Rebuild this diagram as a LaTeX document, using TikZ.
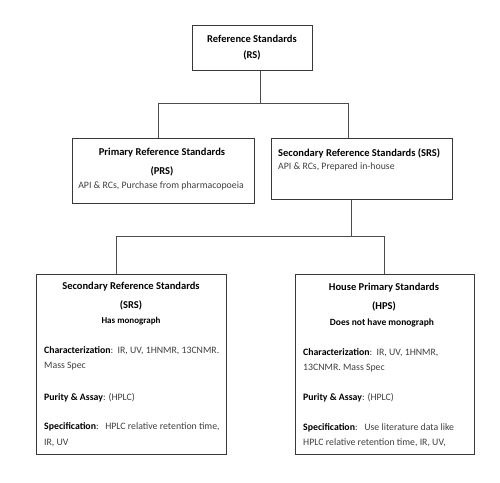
\documentclass[tikz,border=0pt]{standalone}
\usepackage{fontspec}
\setmainfont{Carlito}
\begin{document}
\begin{tikzpicture}[x=1pt,y=-1pt,
  box/.style={draw=black!78,line width=0.9pt,fill=white,inner sep=0pt,anchor=north west},
  conn/.style={draw=black!70,line width=0.8pt},
  ttl/.style={font=\bfseries\fontsize{10.5}{12}\selectfont,inner sep=0pt,text=black},
  sub/.style={font=\fontsize{9.8}{12}\selectfont,inner sep=0pt,text=black!75},
  lft/.style={anchor=west,font=\fontsize{9.8}{12}\selectfont,inner sep=0pt,text=black!75},
  bl/.style={text=black}
]
\useasboundingbox (0,0) rectangle (500,482);
\fill[white] (0,0) rectangle (500,482);
% boxes
\node[box,minimum width=120pt,minimum height=45pt] (rs) at (192,25) {};
\node[box,minimum width=182pt,minimum height=65pt] (prs) at (72,138) {};
\node[box,minimum width=181pt,minimum height=61pt] (srs) at (271,138) {};
\node[box,minimum width=190pt,minimum height=180pt] (srs2) at (36,274) {};
\node[box,minimum width=179pt,minimum height=180pt] (hps) at (295,274) {};
% connectors
\coordinate (j1) at (260,103);
\coordinate (j1l) at (158,103);
\coordinate (j1r) at (348,103);
\draw[conn] (j1 |- rs.south) -- (j1);
\draw[conn] (j1l |- prs.north) -- (j1l) -- (j1r) -- (j1r |- srs.north);
\coordinate (j2) at (351,236);
\coordinate (j2l) at (116,236);
\coordinate (j2r) at (384,236);
\draw[conn] (j2 |- srs.south) -- (j2);
\draw[conn] (j2l |- srs2.north) -- (j2l) -- (j2r) -- (j2r |- hps.north);
% texts RS
\node[ttl] (t1) at (252,39) {Reference Standards};
\node[ttl] (t2) at (252,55) {(RS)};
% PRS
\node[ttl] (t3) at (162,153) {Primary Reference Standards};
\node[ttl] (t4) at (162,171) {(PRS)};
\node[sub] (t5) at (161,186) {API \& RCs, Purchase from pharmacopoeia};
% SRS
\node[ttl,anchor=west] (t6) at (278,153) {Secondary Reference Standards (SRS)};
\node[lft] (t7) at (278,167) {API \& RCs, Prepared in-house};
% bottom left
\node[ttl] (t8) at (131,287) {Secondary Reference Standards};
\node[ttl] (t9) at (131,305) {(SRS)};
\node[ttl,font=\bfseries\fontsize{9}{11}\selectfont] (t10) at (131,321) {Has monograph};
\node[lft] (t11) at (44,351) {\textcolor{black}{\textbf{Characterization}}:\ \ IR, UV, 1HNMR, 13CNMR.};
\node[lft] (t12) at (44,366) {Mass Spec};
\node[lft] (t13) at (44,398) {\textcolor{black}{\textbf{Purity \& Assay}}: (HPLC)};
\node[lft] (t14) at (44,427) {\textcolor{black}{\textbf{Specification}}:\ \ \ HPLC relative retention time,};
\node[lft] (t15) at (44,443) {IR, UV};
% bottom right
\node[ttl] (t16) at (384,288) {House Primary Standards};
\node[ttl] (t17) at (384,306) {(HPS)};
\node[ttl,font=\bfseries\fontsize{9.5}{11}\selectfont] (t18) at (382,323) {Does not have monograph};
\node[lft] (t19) at (303,353) {\textcolor{black}{\textbf{Characterization}}:\ \ IR, UV, 1HNMR,};
\node[lft] (t20) at (303,368) {13CNMR. Mass Spec};
\node[lft] (t21) at (303,398) {\textcolor{black}{\textbf{Purity \& Assay}}: (HPLC)};
\node[lft] (t22) at (303,428) {\textcolor{black}{\textbf{Specification}}:\ \ \ Use literature data like};
\node[lft] (t23) at (303,443) {HPLC relative retention time, IR, UV,};
\end{tikzpicture}
\end{document}
